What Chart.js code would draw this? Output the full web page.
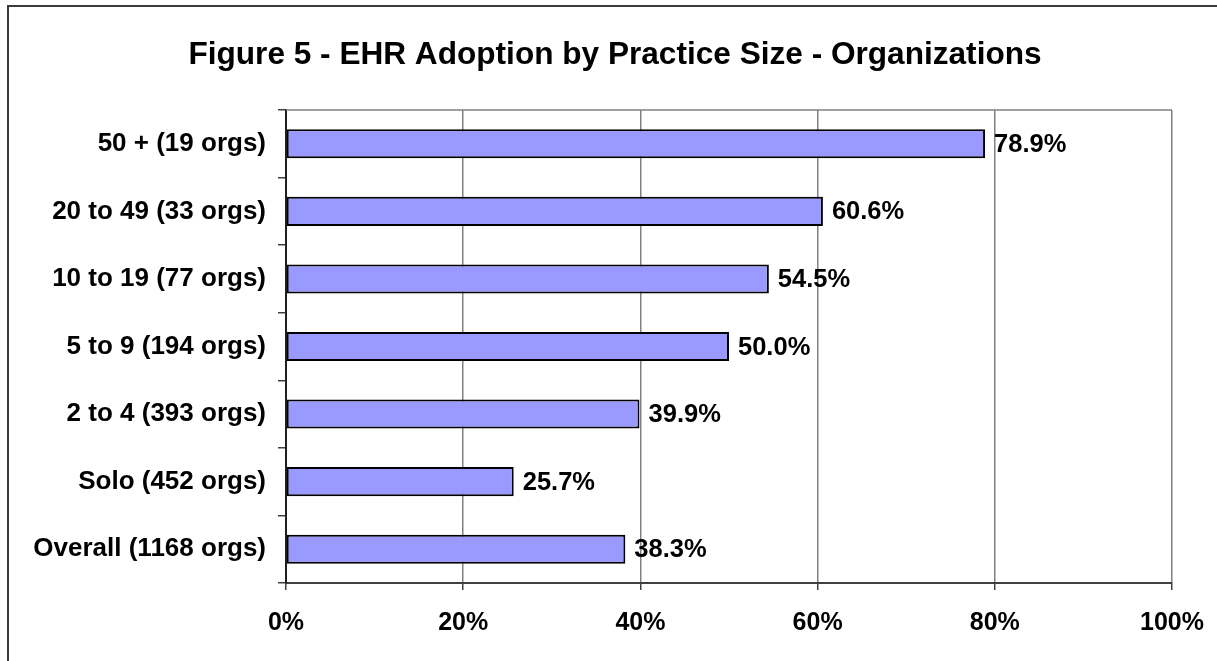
<!DOCTYPE html>
<html>
<head>
<meta charset="utf-8">
<script src="https://cdn.jsdelivr.net/npm/chart.js@4.4.1/dist/chart.umd.min.js"></script>
<style>
  html, body { margin: 0; padding: 0; background: #fff; }
  #wrap { width: 1217px; height: 661px; }
</style>
</head>
<body>
<div id="wrap"><canvas id="ehrChart" width="1217" height="661"></canvas></div>
<script>
// categories top to bottom, as shown in the figure
var categories = ['50 + (19 orgs)', '20 to 49 (33 orgs)', '10 to 19 (77 orgs)', '5 to 9 (194 orgs)',
                  '2 to 4 (393 orgs)', 'Solo (452 orgs)', 'Overall (1168 orgs)'];
var adoption = [78.9, 60.6, 54.5, 50.0, 39.9, 25.7, 38.3];
var xTicks = [0, 20, 40, 60, 80, 100];
var titleText = 'Figure 5 - EHR Adoption by Practice Size - Organizations';

var fontFamily = 'Arial, "Liberation Sans", sans-serif';

// outer frame, title, top line of plot area and value labels
var extras = {
  id: 'extras',
  beforeDraw: function(chart) {
    var c = chart.ctx;
    c.save();
    c.strokeStyle = '#3a3a3a';
    c.lineWidth = 2;
    c.strokeRect(8, 6, 1300, 800);
    c.fillStyle = '#000';
    c.font = 'bold 31.6px ' + fontFamily;
    c.textAlign = 'center';
    c.textBaseline = 'alphabetic';
    c.fillText(titleText, 615, 64);
    c.restore();
  },
  afterDatasetsDraw: function(chart) {
    var c = chart.ctx;
    var a = chart.chartArea;
    c.save();
    c.strokeStyle = '#808080';
    c.lineWidth = 1.5;
    c.beginPath();
    c.moveTo(a.left, a.top);
    c.lineTo(a.right, a.top);
    c.stroke();

    c.fillStyle = '#000';
    c.font = 'bold 25.5px ' + fontFamily;
    c.textBaseline = 'middle';
    c.textAlign = 'left';
    chart.getDatasetMeta(0).data.forEach(function(bar, i) {
      c.fillText(adoption[i].toFixed(1) + '%', bar.x + 9, bar.y + 1);
    });
    c.restore();
  }
};

var ctx = document.getElementById('ehrChart');
var chart = new Chart(ctx, {
  type: 'bar',
  data: {
    labels: categories,
    datasets: [{
      data: adoption,
      backgroundColor: '#9999ff',
      borderColor: '#000',
      borderWidth: 2,
      borderSkipped: false,
      categoryPercentage: 1,
      barPercentage: 0.43
    }]
  },
  options: {
    indexAxis: 'y',
    responsive: false,
    animation: false,
    layout: { padding: { left: 0, right: 45, top: 110, bottom: 0 } },
    plugins: {
      legend: { display: false },
      tooltip: { enabled: false },
      title: { display: false }
    },
    scales: {
      x: {
        min: 0,
        max: 100,
        afterBuildTicks: function(scale) {
          scale.ticks = xTicks.map(function(v) { return { value: v }; });
        },
        afterFit: function(scale) {
          scale.height = 78;
          scale.paddingLeft = 0;
          scale.paddingRight = 0;
        },
        grid: {
          color: '#808080',
          lineWidth: 1.5,
          drawTicks: true,
          tickLength: 7,
          tickColor: '#404040'
        },
        border: { color: '#404040', width: 2 },
        ticks: {
          color: '#000',
          padding: 18,
          font: { family: fontFamily, size: 25, weight: 'bold' },
          callback: function(v) { return v + '%'; }
        }
      },
      y: {
        afterFit: function(scale) {
          scale.width = 286;
          scale.paddingTop = 0;
          scale.paddingBottom = 0;
        },
        grid: {
          offset: true,
          drawOnChartArea: false,
          drawTicks: true,
          tickLength: 8,
          tickColor: '#404040',
          lineWidth: 1.5
        },
        border: { color: '#202020', width: 2 },
        ticks: {
          color: '#000',
          padding: 12,
          font: { family: fontFamily, size: 26, weight: 'bold' }
        }
      }
    }
  },
  plugins: [extras]
});
</script>
</body>
</html>
